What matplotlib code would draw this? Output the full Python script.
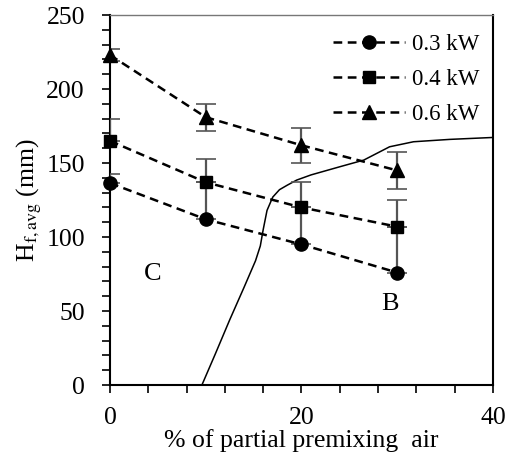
import matplotlib
matplotlib.use("Agg")
import matplotlib.pyplot as plt
from matplotlib.ticker import MultipleLocator

plt.rcParams['font.family'] = ['Liberation Serif', 'DejaVu Serif']
plt.rcParams['mathtext.fontset'] = 'stix'

x = [0, 10, 20, 30]
labels = ["0.3 kW", "0.4 kW", "0.6 kW"]
y03 = [136.5, 112, 95, 76]
y04 = [165, 137, 120, 107]
y06 = [223, 181, 162, 145]
err03_up = [6, 25, 25, 31]
err04_up = [15, 16, 17, 18]
err06 = [4, 9, 12, 12.5]

# boundary curve between regions C and B
bx = [9.6, 11.0, 12.5, 14.0, 15.2, 15.7, 16.0, 16.4, 17.0, 17.7, 18.5, 19.5, 21.0, 24.0, 26.5, 29.2, 31.7, 35.5, 40.0]
by = [0, 21, 44, 66, 84, 94, 105, 118, 127, 132, 135, 138.5, 142, 147.5, 152, 161, 164.4, 166, 167.3]

fig = plt.figure(figsize=(5.13, 4.57), dpi=100)
ax = fig.add_axes([0.2144, 0.1575, 0.7466, 0.8095])

ax.plot(bx, by, color='black', lw=1.1, zorder=2)

ecol = '#555555'
dash = (0, (3.5, 2.2))
ekw = dict(fmt='none', ecolor=ecol, elinewidth=1.6, capsize=7.5, capthick=1.2, zorder=3)
ax.errorbar(x, y03, yerr=[[0]*4, err03_up], **ekw)
ax.errorbar(x, y04, yerr=[[0]*4, err04_up], **ekw)
ax.errorbar(x, y06, yerr=err06, **ekw)

ax.plot(x, y03, color='black', lw=1.8, linestyle=dash, marker='o', ms=9.5, label=labels[0], zorder=4, clip_on=False)
ax.plot(x, y04, color='black', lw=1.8, linestyle=dash, marker='s', ms=8.5, label=labels[1], zorder=4, clip_on=False)
ax.plot(x, y06, color='black', lw=1.8, linestyle=dash, marker='^', ms=9.5, label=labels[2], zorder=4, clip_on=False)

ax.set_xlim(0, 40)
ax.set_ylim(0, 250)
ax.xaxis.set_major_locator(MultipleLocator(20))
ax.xaxis.set_minor_locator(MultipleLocator(4))
ax.yaxis.set_major_locator(MultipleLocator(50))
ax.yaxis.set_minor_locator(MultipleLocator(10))
ax.tick_params(axis='both', which='both', direction='out', length=6, width=1.2, labelsize=18.5)
ax.tick_params(axis='x', which='major', pad=10)
ax.tick_params(axis='y', which='major', pad=12)

for s in ['left', 'bottom', 'right']:
    ax.spines[s].set_color('black')
    ax.spines[s].set_linewidth(1.5)
ax.spines['top'].set_color('#777777')
ax.spines['top'].set_linewidth(1.0)

ax.set_xlabel("% of partial premixing  air", fontsize=18.5, labelpad=0)
ax.set_ylabel(r"H$_{\mathrm{f,avg}}$ (mm)", fontsize=18.5, labelpad=2)

ax.text(4.5, 75, "C", fontsize=19, ha='center', va='center')
ax.text(29.2, 55, "B", fontsize=19, ha='center', va='center')

leg = ax.legend(loc='upper right', bbox_to_anchor=(1.0, 0.985), frameon=False,
                fontsize=16.5, handlelength=3.15, handletextpad=0.3,
                labelspacing=0.6, borderaxespad=0.2, borderpad=0.4)

fig.savefig("out.png", dpi=100)
